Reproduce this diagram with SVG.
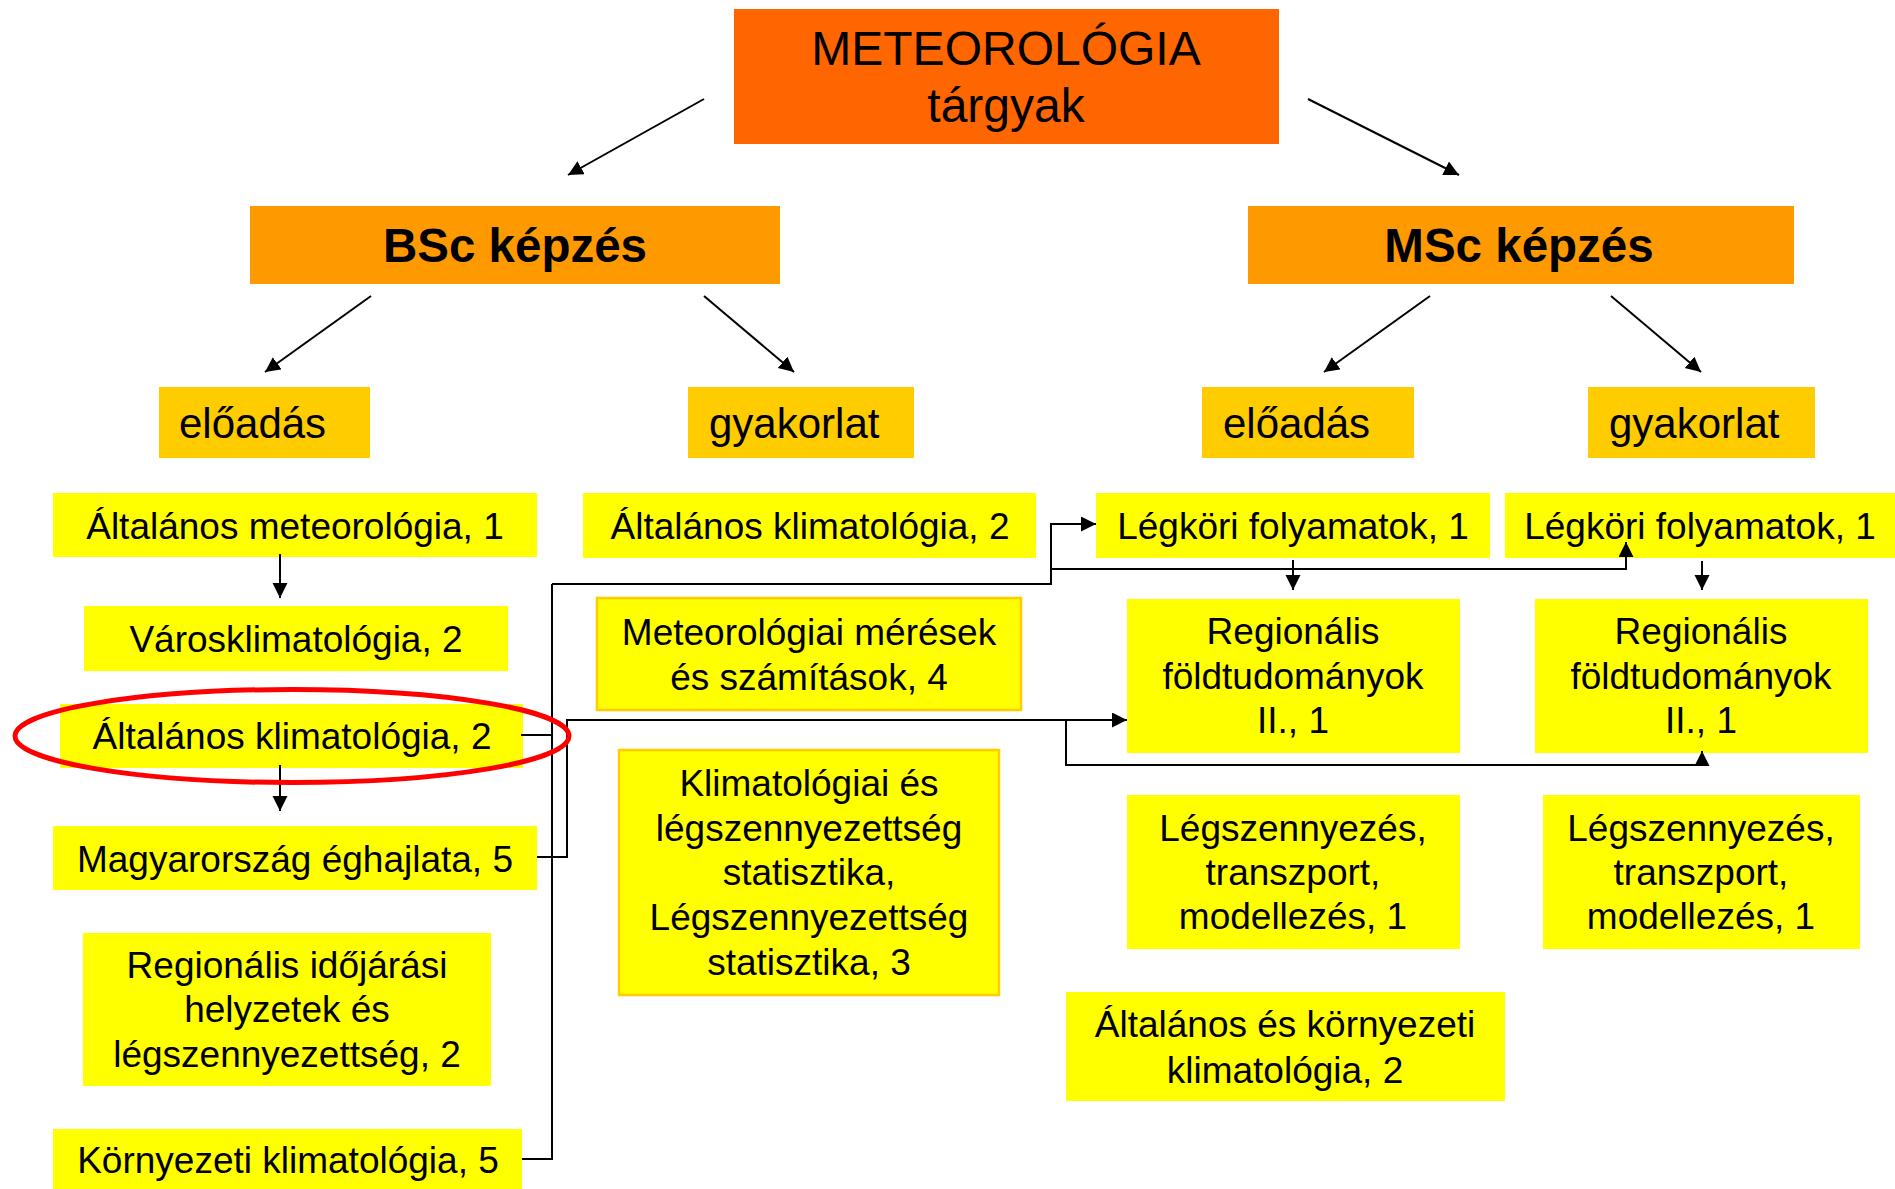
<svg xmlns="http://www.w3.org/2000/svg" width="1895" height="1189" viewBox="0 0 1895 1189">
<defs>
<marker id="ah" markerUnits="userSpaceOnUse" markerWidth="16" markerHeight="16" refX="15" refY="7.5" orient="auto">
<path d="M0,0 L15,7.5 L0,15 z" fill="#000"/>
</marker>
</defs>
<style>
.t{font-family:"Liberation Sans",Arial,sans-serif;fill:#000}
.c{text-anchor:middle}
.it{font-size:37px}
.lv{font-size:42px}
.hd{font-size:47.5px;font-weight:bold}
.top{font-size:48px}
.y{fill:#FFFF00}
.yb{fill:#FFFF00;stroke:#FFCC00;stroke-width:2.5}
.g{fill:#FFCC00}
.o{fill:#FF9900}
.r{fill:#FF6600}
.cn{fill:none;stroke:#000;stroke-width:2}
.ar{marker-end:url(#ah)}
</style>
<rect width="1895" height="1189" fill="#fff"/>

<g id="meteorologia">
<rect class="r" x="734" y="9" width="545" height="135"/>
<text class="t c top" x="1006" y="65">METEOROLÓGIA</text>
<text class="t c top" x="1006" y="122">tárgyak</text>
</g>
<g id="bsc">
<rect class="o" x="250" y="206" width="530" height="78"/>
<text class="t c hd" x="515" y="262">BSc képzés</text>
</g>
<g id="msc">
<rect class="o" x="1248" y="206" width="546" height="78"/>
<text class="t c hd" x="1519" y="262">MSc képzés</text>
</g>
<g id="bsc-eloadas">
<rect class="g" x="159" y="387" width="211" height="71"/>
<text class="t lv" x="179" y="438">előadás</text>
</g>
<g id="bsc-gyakorlat">
<rect class="g" x="688" y="387" width="226" height="71"/>
<text class="t lv" x="709" y="438">gyakorlat</text>
</g>
<g id="msc-eloadas">
<rect class="g" x="1202" y="387" width="212" height="71"/>
<text class="t lv" x="1223" y="438">előadás</text>
</g>
<g id="msc-gyakorlat">
<rect class="g" x="1588" y="387" width="227" height="71"/>
<text class="t lv" x="1609" y="438">gyakorlat</text>
</g>

<g id="alt-met">
<rect class="y" x="53" y="493" width="484" height="64"/>
<text class="t c it" x="295" y="539">Általános meteorológia, 1</text>
</g>
<g id="varosklim">
<rect class="y" x="84" y="606" width="424" height="65"/>
<text class="t c it" x="296" y="652">Városklimatológia, 2</text>
</g>
<g id="alt-klim-bsc">
<rect class="y" x="60" y="704" width="463" height="64"/>
<text class="t c it" x="292" y="749">Általános klimatológia, 2</text>
</g>
<g id="magyar">
<rect class="y" x="53" y="826" width="484" height="64"/>
<text class="t c it" x="295" y="872">Magyarország éghajlata, 5</text>
</g>
<g id="regionalis-idojarasi">
<rect class="y" x="83" y="933" width="408" height="153"/>
<text class="t c it" x="287" y="978">Regionális időjárási</text>
<text class="t c it" x="287" y="1022">helyzetek és</text>
<text class="t c it" x="287" y="1067">légszennyezettség, 2</text>
</g>
<g id="kornyezeti">
<rect class="y" x="53" y="1129" width="469" height="60"/>
<text class="t c it" x="288" y="1173">Környezeti klimatológia, 5</text>
</g>

<g id="alt-klim-gyak">
<rect class="y" x="583" y="493" width="453" height="65"/>
<text class="t c it" x="810" y="539">Általános klimatológia, 2</text>
</g>
<g id="meres">
<rect class="yb" x="597" y="598" width="424" height="112"/>
<text class="t c it" x="809" y="645">Meteorológiai mérések</text>
<text class="t c it" x="809" y="690">és számítások, 4</text>
</g>
<g id="statisztika">
<rect class="yb" x="619" y="750" width="380" height="245"/>
<text class="t c it" x="809" y="796">Klimatológiai és</text>
<text class="t c it" x="809" y="841">légszennyezettség</text>
<text class="t c it" x="809" y="885">statisztika,</text>
<text class="t c it" x="809" y="930">Légszennyezettség</text>
<text class="t c it" x="809" y="975">statisztika, 3</text>
</g>

<g id="legkori-ea">
<rect class="y" x="1096" y="493" width="394" height="65"/>
<text class="t c it" x="1293" y="539">Légköri folyamatok, 1</text>
</g>
<g id="legkori-gy">
<rect class="y" x="1505" y="493" width="390" height="65"/>
<text class="t c it" x="1700" y="539">Légköri folyamatok, 1</text>
</g>
<g id="regfold-ea">
<rect class="y" x="1127" y="599" width="333" height="154"/>
<text class="t c it" x="1293" y="644">Regionális</text>
<text class="t c it" x="1293" y="689">földtudományok</text>
<text class="t c it" x="1293" y="733">II., 1</text>
</g>
<g id="regfold-gy">
<rect class="y" x="1535" y="599" width="333" height="154"/>
<text class="t c it" x="1701" y="644">Regionális</text>
<text class="t c it" x="1701" y="689">földtudományok</text>
<text class="t c it" x="1701" y="733">II., 1</text>
</g>
<g id="legsz-ea">
<rect class="y" x="1127" y="795" width="333" height="154"/>
<text class="t c it" x="1293" y="841">Légszennyezés,</text>
<text class="t c it" x="1293" y="885">transzport,</text>
<text class="t c it" x="1293" y="929">modellezés, 1</text>
</g>
<g id="legsz-gy">
<rect class="y" x="1543" y="795" width="317" height="154"/>
<text class="t c it" x="1701" y="841">Légszennyezés,</text>
<text class="t c it" x="1701" y="885">transzport,</text>
<text class="t c it" x="1701" y="929">modellezés, 1</text>
</g>
<g id="alt-korny">
<rect class="y" x="1066" y="992" width="439" height="109"/>
<text class="t c it" x="1285" y="1037">Általános és környezeti</text>
<text class="t c it" x="1285" y="1083">klimatológia, 2</text>
</g>

<g id="connectors">
<line class="cn ar" x1="704" y1="99" x2="568" y2="175"/>
<line class="cn ar" x1="1308" y1="99" x2="1459" y2="175"/>
<line class="cn ar" x1="371" y1="296" x2="265" y2="372"/>
<line class="cn ar" x1="704" y1="296" x2="794" y2="372"/>
<line class="cn ar" x1="1430" y1="296" x2="1324" y2="372"/>
<line class="cn ar" x1="1611" y1="296" x2="1701" y2="372"/>
<line class="cn ar" x1="280" y1="554" x2="280" y2="598"/>
<line class="cn ar" x1="280" y1="765" x2="280" y2="811"/>
<line class="cn" x1="521" y1="735" x2="552" y2="735"/>
<polyline class="cn" points="522,1159 552,1159 552,584"/>
<polyline class="cn ar" points="552,584 1051,584 1051,524 1096,524"/>
<polyline class="cn ar" points="1051,569 1626,569 1626,542"/>
<polyline class="cn ar" points="537,857 567,857 567,720 1127,720"/>
<polyline class="cn ar" points="1066,720 1066,765 1702,765 1702,751"/>
<line class="cn ar" x1="1293" y1="560" x2="1293" y2="590"/>
<line class="cn ar" x1="1702" y1="561" x2="1702" y2="590"/>
</g>
<ellipse cx="292" cy="736" rx="277" ry="46.5" fill="none" stroke="#FF0000" stroke-width="5"/>
</svg>
